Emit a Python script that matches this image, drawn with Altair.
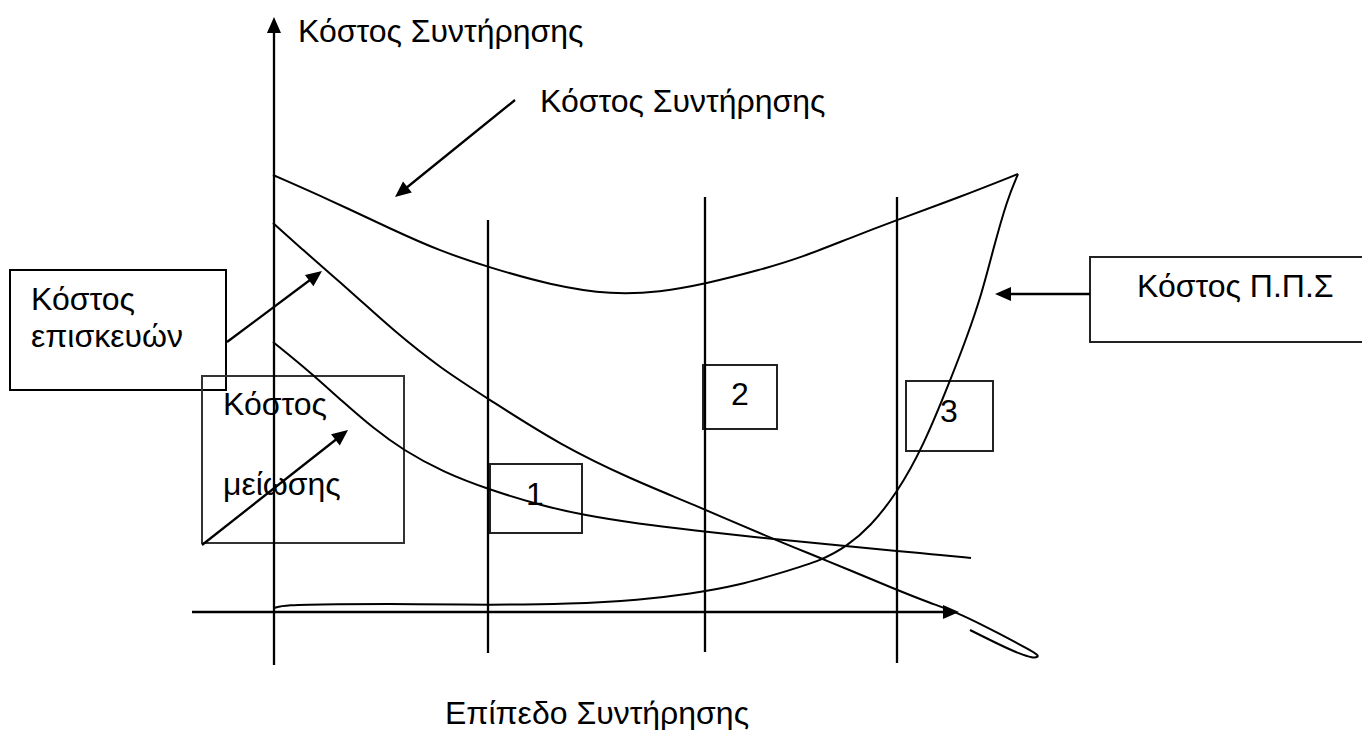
import altair as alt
import numpy as np
import pandas as pd

# ---------------- data (pixel-like diagram coordinates) ----------------
# Total maintenance cost curve (U-shape)
TOTAL_X = [273, 330, 393, 440, 488, 550, 613, 660, 705, 760, 800, 850, 897, 960, 1018]
TOTAL_Y = [175, 200, 230, 251, 267, 285, 295, 292, 284, 270, 258, 238, 220, 197, 174]

# Repair cost curve (decreasing, ends with a loop)
REPAIR_X = [273, 303, 333, 360, 393, 440, 490, 560, 633, 690, 773, 823, 897, 930, 959, 1000, 1030, 1038, 1038, 1033, 1020, 1000, 970]
REPAIR_Y = [223, 250, 276, 300, 330, 368, 400, 445, 480, 503, 539, 559, 590, 603, 613, 634, 650, 655, 657, 658, 654, 645, 630]

# Reduction cost curve
REDUCE_X = [273, 310, 343, 373, 403, 443, 490, 540, 582, 640, 690, 773, 847, 897, 930, 971]
REDUCE_Y = [342, 372, 402, 428, 450, 472, 490, 505, 515, 524, 530, 539, 546, 551, 554, 558]

# Preventive maintenance (Π.Π.Σ) cost curve
PPS_X = [274, 285, 330, 420, 488, 570, 640, 690, 740, 780, 823, 847, 870, 897, 923, 950, 967, 982, 993, 1007, 1018]
PPS_Y = [608, 605, 604, 604, 605, 604, 600, 594, 585, 573, 560, 546, 527, 493, 447, 381, 337, 293, 250, 200, 174]

# Straight segments: axes, level separators, arrow shafts
SEG_X1 = [274, 192, 488, 705, 897, 515, 227, 202, 1090]
SEG_Y1 = [665, 612, 220, 197, 197, 100, 342, 545, 294]
SEG_X2 = [274, 952, 488, 705, 897, 400, 318, 343, 1000]
SEG_Y2 = [28, 612, 653, 652, 663, 193, 274, 434, 294]

# Arrow heads: tip and the point the arrow comes from
HEAD_X = [274, 959, 395, 322, 348, 995]
HEAD_Y = [17, 612, 197, 271, 430, 294]
FROM_X = [274, 192, 515, 227, 202, 1090]
FROM_Y = [665, 612, 100, 342, 545, 294]

# Boxes
BOX_X1 = [10, 202, 1090, 490, 703, 906]
BOX_X2 = [226, 404, 1380, 582, 777, 993]
BOX_Y1 = [270, 376, 257, 464, 365, 381]
BOX_Y2 = [390, 543, 342, 533, 429, 451]
BOX_COLOR = ["#000000", "#333333", "#222222", "#222222", "#222222", "#222222"]

# Texts (left aligned)
LABELS = ["Κόστος Συντήρησης", "Κόστος Συντήρησης", "Κόστος", "επισκευών",
          "Κόστος", "μείωσης", "Κόστος Π.Π.Σ", "Επίπεδο Συντήρησης"]
LABEL_X = [298, 540, 31, 31, 223, 223, 1137, 445]
LABEL_Y = [42, 112, 310, 347, 415, 495, 297, 724]

# Box numbers (centered)
NUMS = ["1", "2", "3"]
NUM_X = [535, 740, 949]
NUM_Y = [505, 405, 422]

# ---------------- build tables ----------------
curves = []
for name, xs, ys in [("total", TOTAL_X, TOTAL_Y), ("repair", REPAIR_X, REPAIR_Y),
                     ("reduce", REDUCE_X, REDUCE_Y), ("pps", PPS_X, PPS_Y)]:
    for i, (x, y) in enumerate(zip(xs, ys)):
        curves.append({"curve": name, "order": i, "x": x, "y": y})
curves = pd.DataFrame(curves)

segs = pd.DataFrame({"x": SEG_X1, "y": SEG_Y1, "x2": SEG_X2, "y2": SEG_Y2})

dx = np.array(HEAD_X) - np.array(FROM_X)
dy = np.array(HEAD_Y) - np.array(FROM_Y)
ang = np.mod(np.degrees(np.arctan2(dx, -dy)), 360)
heads = pd.DataFrame({"x": HEAD_X, "y": HEAD_Y, "angle": ang})

boxes = pd.DataFrame({"x": BOX_X1, "x2": BOX_X2, "y": BOX_Y1, "y2": BOX_Y2, "c": BOX_COLOR})
labels = pd.DataFrame({"t": LABELS, "x": LABEL_X, "y": LABEL_Y})
nums = pd.DataFrame({"t": NUMS, "x": NUM_X, "y": NUM_Y})

W, H = 1354, 722
xs = alt.Scale(domain=[8, 8 + W], nice=False, zero=False)
ys = alt.Scale(domain=[8, 8 + H], nice=False, zero=False, reverse=True)
X = lambda f="x": alt.X(f"{f}:Q", scale=xs, axis=None)
Y = lambda f="y": alt.Y(f"{f}:Q", scale=ys, axis=None)

FONT = "Liberation Sans"
FS = 32

curve_layer = alt.Chart(curves).mark_line(
    color="black", strokeWidth=2, interpolate="basis"
).encode(x=X(), y=Y(), detail="curve:N", order="order:Q")

seg_layer = alt.Chart(segs).mark_rule(color="black", strokeWidth=2.3).encode(
    x=X(), y=Y(), x2="x2:Q", y2="y2:Q"
)

head_layer = alt.Chart(heads).mark_point(
    shape="M0,0L-0.44,1L0.44,1Z", size=1024, filled=True, fill="black",
    strokeWidth=0, opacity=1
).encode(x=X(), y=Y(), angle=alt.Angle("angle:Q", scale=None))

box_layer = alt.Chart(boxes).mark_rect(fillOpacity=0, strokeWidth=2).encode(
    x=X(), y=Y(), x2="x2:Q", y2="y2:Q", stroke=alt.Stroke("c:N", scale=None)
)

label_layer = alt.Chart(labels).mark_text(
    align="left", baseline="alphabetic", font=FONT, fontSize=FS, color="black"
).encode(x=X(), y=Y(), text="t:N")

num_layer = alt.Chart(nums).mark_text(
    align="center", baseline="alphabetic", font=FONT, fontSize=FS, color="black"
).encode(x=X(), y=Y(), text="t:N")

chart = alt.layer(
    box_layer, curve_layer, seg_layer, head_layer, label_layer, num_layer
).properties(
    width=W, height=H, padding=0,
    autosize=alt.AutoSizeParams(type="none"),
).configure_view(stroke=None)

chart.save("out.html", embed_options={"renderer": "svg", "actions": False})
